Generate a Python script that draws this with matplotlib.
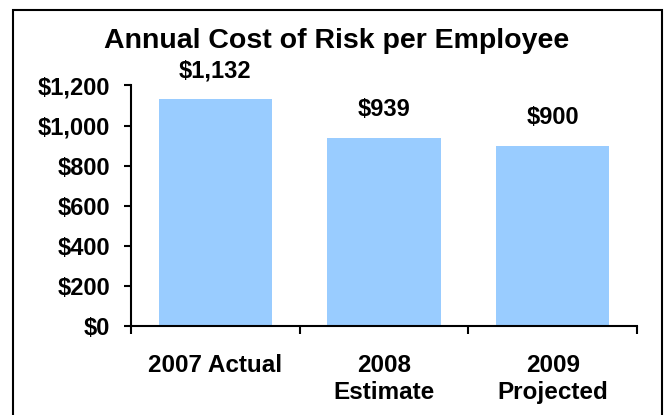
import matplotlib
matplotlib.use("Agg")
import matplotlib.pyplot as plt
from matplotlib.patches import Rectangle

categories = ["2007 Actual", "2008\nEstimate", "2009\nProjected"]
values = [1132, 939, 900]
value_labels = ["$1,132", "$939", "$900"]
yticks = [0, 200, 400, 600, 800, 1000, 1200]
ytick_labels = ["$0", "$200", "$400", "$600", "$800", "$1,000", "$1,200"]

plt.rcParams['font.family'] = ['Liberation Sans', 'DejaVu Sans']
plt.rcParams['font.weight'] = 'bold'

fig = plt.figure(figsize=(6.65, 4.15), dpi=100)
W, H = 665, 415
ax = fig.add_axes([131 / W, 1 - 326 / H, (637 - 131) / W, (326 - 85.5) / H])

x = list(range(len(categories)))
ax.bar(x, values, width=0.67, color="#99CCFF", edgecolor="none")
ax.set_xlim(-0.5, len(categories) - 0.5)
ax.set_ylim(0, 1200)
ax.set_yticks(yticks)
ax.set_yticklabels(ytick_labels, fontsize=17, fontweight='bold')
ax.set_xticks([i - 0.5 for i in range(len(categories) + 1)])
ax.set_xticklabels([])
ax.set_xticks(x, minor=True)
ax.set_xticklabels(categories, minor=True, fontsize=17.5, fontweight='bold', linespacing=1.2)
ax.tick_params(axis='x', which='minor', length=0, pad=20.5)
ax.tick_params(axis='x', which='major', length=6, width=1.5, direction='out')
ax.tick_params(axis='y', length=5, width=1.5, direction='out', pad=10)
for s in ['top', 'right']:
    ax.spines[s].set_visible(False)
for s in ['left', 'bottom']:
    ax.spines[s].set_linewidth(1.5)

for xi, v, lab in zip(x, values, value_labels):
    ax.annotate(lab, (xi, v), xytext=(0, 28), textcoords='offset pixels',
                ha='center', va='center', fontsize=17, fontweight='bold')

fig.text(337 / W, 1 - 41 / H, "Annual Cost of Risk per Employee", ha='center', va='center',
         fontsize=20.5, fontweight='bold')

fig.patches.append(Rectangle((13 / W, -0.05), (662 - 13) / W, 1 - 10 / H + 0.05,
                             transform=fig.transFigure, fill=False, edgecolor='black',
                             linewidth=1.5))

fig.savefig("out.png", dpi=100)
